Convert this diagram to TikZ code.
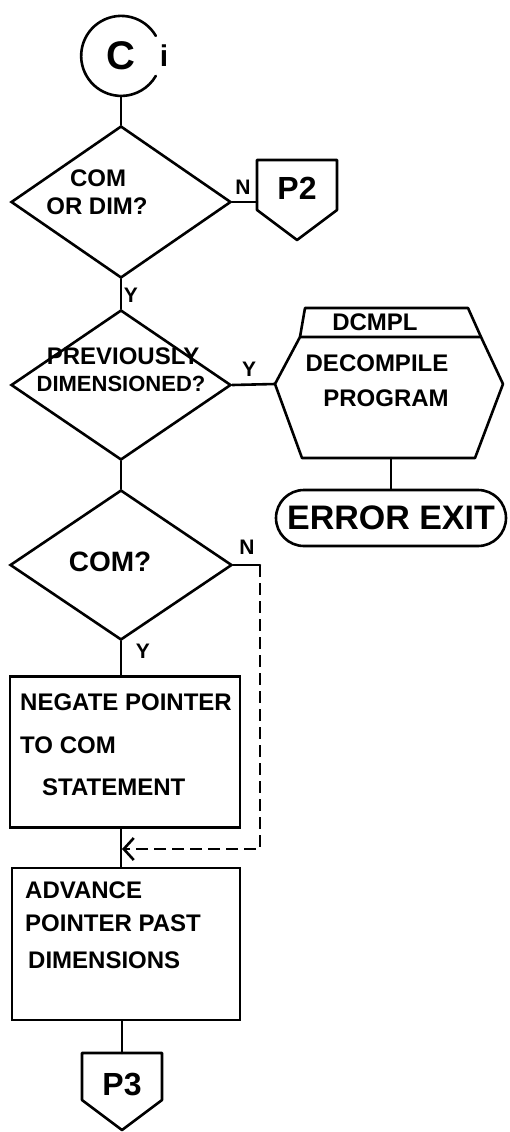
\documentclass[tikz,border=0pt]{standalone}
\usepackage{fontspec}
\setmainfont{Liberation Sans}
\usetikzlibrary{shapes.geometric,arrows.meta}
\begin{document}
\begin{tikzpicture}[x=1pt,y=-1pt,
  line/.style={line width=2.6pt, line join=round, line cap=round},
  dec/.style={diamond, draw, line width=2.6pt, inner sep=0pt},
  procbox/.style={rectangle, draw, line width=2.6pt, inner sep=0pt},
  txt/.style={font=\bfseries\fontsize{24}{26}\selectfont, inner sep=0pt},
  lbl/.style={font=\bfseries\fontsize{21}{22}\selectfont, inner sep=0pt},
  loopline/.style={line width=2.8pt, dash pattern=on 12pt off 6pt}
]
\useasboundingbox (0,0) rectangle (509,1132);

% start connector
\node[circle, minimum size=80pt, inner sep=0pt, font=\bfseries\fontsize{40}{40}\selectfont] (c) at (121,56) {C};
\draw[line] (c.30) arc[start angle=30, end angle=330, radius=40pt];
\node[font=\bfseries\fontsize{30}{30}\selectfont, inner sep=0pt] (ci) at (164,56) {i};

% decision 1
\node[dec, minimum width=220pt, minimum height=152pt] (d1) at (121,202) {};
\node[txt] (t1a) at (98,178) {COM};
\node[txt] (t1b) at (97,206) {OR DIM?};
\draw[line] (c.south) -- (d1.north);

% P2 off-page connector
\coordinate (p2l) at (257,202);
\draw[line] (257,160) -- (337,160) -- (337,210) -- (297,240) -- (257,210) -- cycle;
\node[font=\bfseries\fontsize{32}{32}\selectfont, inner sep=0pt] (p2) at (297,188) {P2};
\draw[line] (d1.east) -- (p2l);
\node[lbl] (n1) at (243,187) {N};

% decision 2
\node[dec, minimum width=220pt, minimum height=150pt] (d2) at (121,385) {};
\node[txt] (t2a) at (123,356) {PREVIOUSLY};
\node[font=\bfseries\fontsize{22}{24}\selectfont, inner sep=0pt] (t2b) at (121,384) {DIMENSIONED?};
\draw[line] (d1.south) -- (d2.north);
\node[lbl] (y1) at (131,295) {Y};

% predefined process (hexagon)
\coordinate (hexL) at (275,384);
\coordinate (hexB) at (391,458);
\draw[line] (hexL) -- (300,337) -- (481,337) -- (503,384) -- (475,458) -- (302,458) -- cycle;
\draw[line] (300,337) -- (305,308) -- (468,308) -- (481,337);
\node[txt] (hx0) at (375,322) {DCMPL};
\node[txt] (hx1) at (377,363) {DECOMPILE};
\node[txt] (hx2) at (386,398) {PROGRAM};
\draw[line] (d2.east) -- (hexL);
\node[lbl] (y2) at (249,369) {Y};

% error exit
\node[draw, line width=2.6pt, rounded corners=28pt, minimum width=230pt, minimum height=56pt, inner sep=0pt, font=\bfseries\fontsize{34}{34}\selectfont] (ee) at (391,518) {ERROR EXIT};
\draw[line] (hexB) -- (ee.north);

% decision 3
\node[dec, minimum width=222pt, minimum height=150pt] (d3) at (121,565) {};
\node[font=\bfseries\fontsize{28}{30}\selectfont, inner sep=0pt] (t3) at (110,562) {COM?};
\draw[line] (d2.south) -- (d3.north);
\node[lbl] (n3) at (247,547) {N};
\coordinate (nr) at (260,565);
\coordinate (nb) at (260,849);
\coordinate (jn) at (122,849);
\draw[line] (d3.east) -- (nr);
\draw[loopline, line join=round, -{Straight Barb[length=10pt,width=22pt,line width=2.6pt]}] (nr) -- (nb) -- (jn);
\node[lbl] (y3) at (143,651) {Y};

% box 1
\node[procbox, minimum width=230pt, minimum height=151pt] (b1) at (125,752) {};
\node[txt, anchor=west] (b1a) at (20,702) {NEGATE POINTER};
\node[txt, anchor=west] (b1b) at (20,745) {TO COM};
\node[txt, anchor=west] (b1c) at (42,787) {STATEMENT};
\draw[line] (d3.south) -- (d3.south |- b1.north);

% box 2
\node[procbox, minimum width=228pt, minimum height=152pt] (b2) at (126,944) {};
\node[txt, anchor=west] (b2a) at (25,890) {ADVANCE};
\node[txt, anchor=west] (b2b) at (25,923) {POINTER PAST};
\node[txt, anchor=west] (b2c) at (28,960) {DIMENSIONS};
\draw[line] (b1.south -| d3.south) -- (b2.north -| d3.south);

% P3 off-page connector
\coordinate (p3t) at (122,1053);
\draw[line] (82,1053) -- (162,1053) -- (162,1100) -- (122,1130) -- (82,1100) -- cycle;
\node[font=\bfseries\fontsize{32}{32}\selectfont, inner sep=0pt] (p3) at (122,1084) {P3};
\draw[line] (b2.south -| p3t) -- (p3t);
\end{tikzpicture}
\end{document}
